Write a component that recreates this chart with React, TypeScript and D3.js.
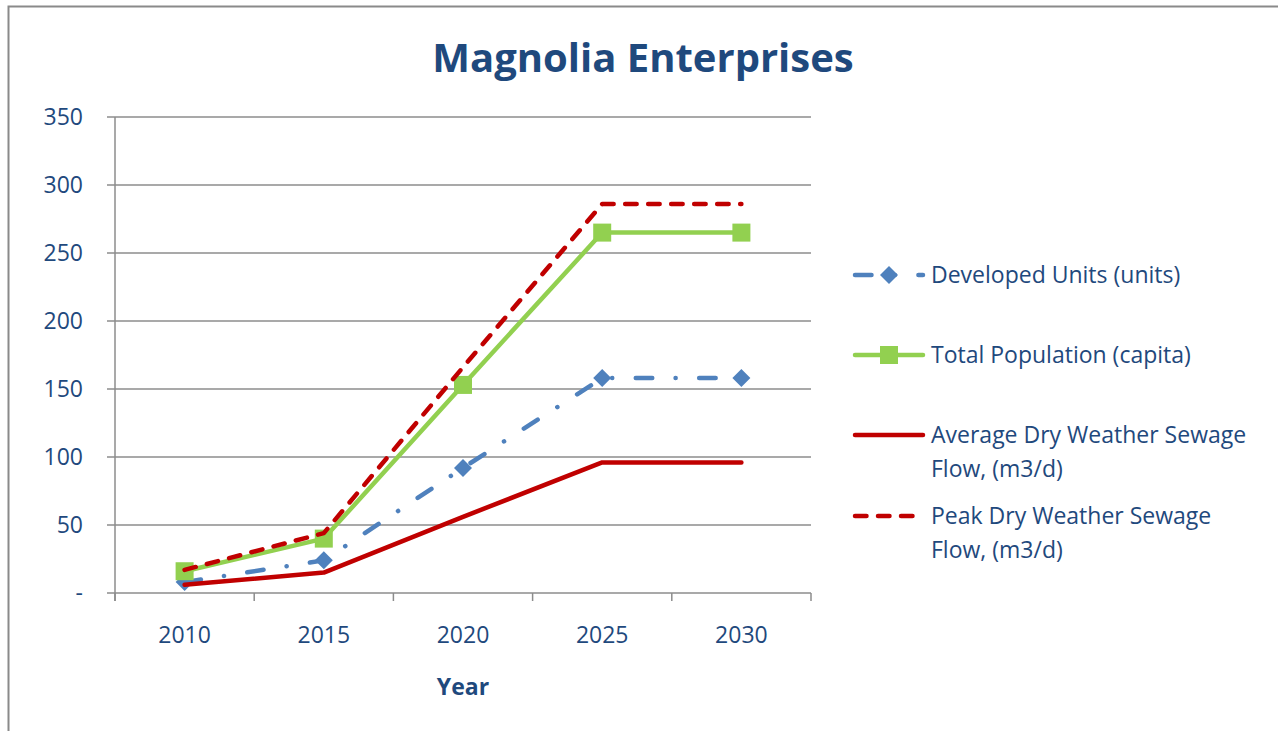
import React from "react";
import * as d3 from "d3";

const years = ["2010", "2015", "2020", "2025", "2030"];
const developedUnits = [8, 24, 92, 158, 158];
const totalPopulation = [16, 40, 153, 265, 265];
const avgFlow = [6, 15, 56, 96, 96];
const peakFlow = [17, 44, 166, 286, 286];
const yTicks = [0, 50, 100, 150, 200, 250, 300, 350];

const W = 1278;
const H = 731;
const TEXT = "#1F497D";
const GRID = "#8C8C8C";
const FONT = "'Open Sans', Lato, sans-serif";
const FS = 23;

const seriesList = [
  { name: ["Developed Units (units)"], values: developedUnits, color: "#4F81BD", dash: "16.5 23.3 0.1 23.5", marker: "diamond", legendY: 275 },
  { name: ["Total Population (capita)"], values: totalPopulation, color: "#92D050", dash: "", marker: "square", legendY: 355 },
  { name: ["Average Dry Weather Sewage", "Flow, (m3/d)"], values: avgFlow, color: "#C00000", dash: "", marker: "none", legendY: 435 },
  { name: ["Peak Dry Weather Sewage", "Flow, (m3/d)"], values: peakFlow, color: "#C00000", dash: "11.5 11.5", marker: "none", legendY: 516 },
];

export default function App() {
  const left = 115, right = 811, top = 117, bottom = 593;
  const x = d3.scaleBand().domain(years).range([left, right]).paddingInner(0).paddingOuter(0);
  const y = d3.scaleLinear().domain([0, 350]).range([bottom, top]);
  const cx = (i: number) => (x(years[i]) as number) + x.bandwidth() / 2;
  const line = d3.line<number>().x((_, i) => cx(i)).y((v) => y(v));
  const bounds = years.map((yr) => x(yr) as number).concat([right]);

  const marker = (kind: string, px: number, py: number, color: string, key: string) => {
    if (kind === "diamond") {
      const s = 9;
      return <path key={key} d={`M${px},${py - s}L${px + s},${py}L${px},${py + s}L${px - s},${py}Z`} fill={color} />;
    }
    if (kind === "square") {
      const s = 9;
      return <rect key={key} x={px - s} y={py - s} width={2 * s} height={2 * s} fill={color} />;
    }
    return null;
  };

  return (
    <svg width={W} height={H} style={{ display: "block", position: "absolute", left: 0, top: 0 }} fontFamily={FONT}>
      <rect x={0} y={0} width={W} height={H} fill="#fff" />
      <path d={`M8.5,${H}V6.5H${W}`} fill="none" stroke="#8A8A8A" strokeWidth={2} />
      <text x={643} y={72} textAnchor="middle" fontSize={40} fontWeight="bold" fill={TEXT}>Magnolia Enterprises</text>

      {yTicks.map((t) => (
        <g key={t}>
          <line x1={left - 8} x2={right} y1={y(t)} y2={y(t)} stroke={GRID} strokeWidth={1.5} />
          <text x={83} y={y(t) + 8} textAnchor="end" fontSize={FS} fill={TEXT}>{t === 0 ? "-" : t}</text>
        </g>
      ))}
      <line x1={left} x2={left} y1={top} y2={bottom + 8} stroke={GRID} strokeWidth={1.5} />
      {bounds.map((b, i) => (
        <line key={i} x1={b} x2={b} y1={bottom} y2={bottom + 8} stroke={GRID} strokeWidth={1.5} />
      ))}
      {years.map((yr, i) => (
        <text key={yr} x={cx(i)} y={643} textAnchor="middle" fontSize={FS} fill={TEXT}>{yr}</text>
      ))}
      <text x={463} y={695} textAnchor="middle" fontSize={FS} fontWeight="bold" fill={TEXT}>Year</text>

      {seriesList.map((s, si) => (
        <g key={si}>
          <path d={line(s.values) as string} fill="none" stroke={s.color} strokeWidth={4.5} strokeDasharray={s.dash || undefined} strokeLinecap="round" strokeLinejoin="round" />
          {s.values.map((v, i) => marker(s.marker, cx(i), y(v), s.color, `m${si}-${i}`))}
        </g>
      ))}

      {seriesList.map((s, si) => (
        <g key={`l${si}`}>
          <line x1={855} x2={923} y1={s.legendY} y2={s.legendY} stroke={s.color} strokeWidth={4.5} strokeDasharray={s.dash || undefined} strokeLinecap="round" />
          {marker(s.marker, 889, s.legendY, s.color, `lm${si}`)}
          {s.name.map((n, k) => (
            <text key={k} x={931} y={s.legendY + 8 + k * 34} fontSize={FS} fill={TEXT}>{n}</text>
          ))}
        </g>
      ))}
    </svg>
  );
}
